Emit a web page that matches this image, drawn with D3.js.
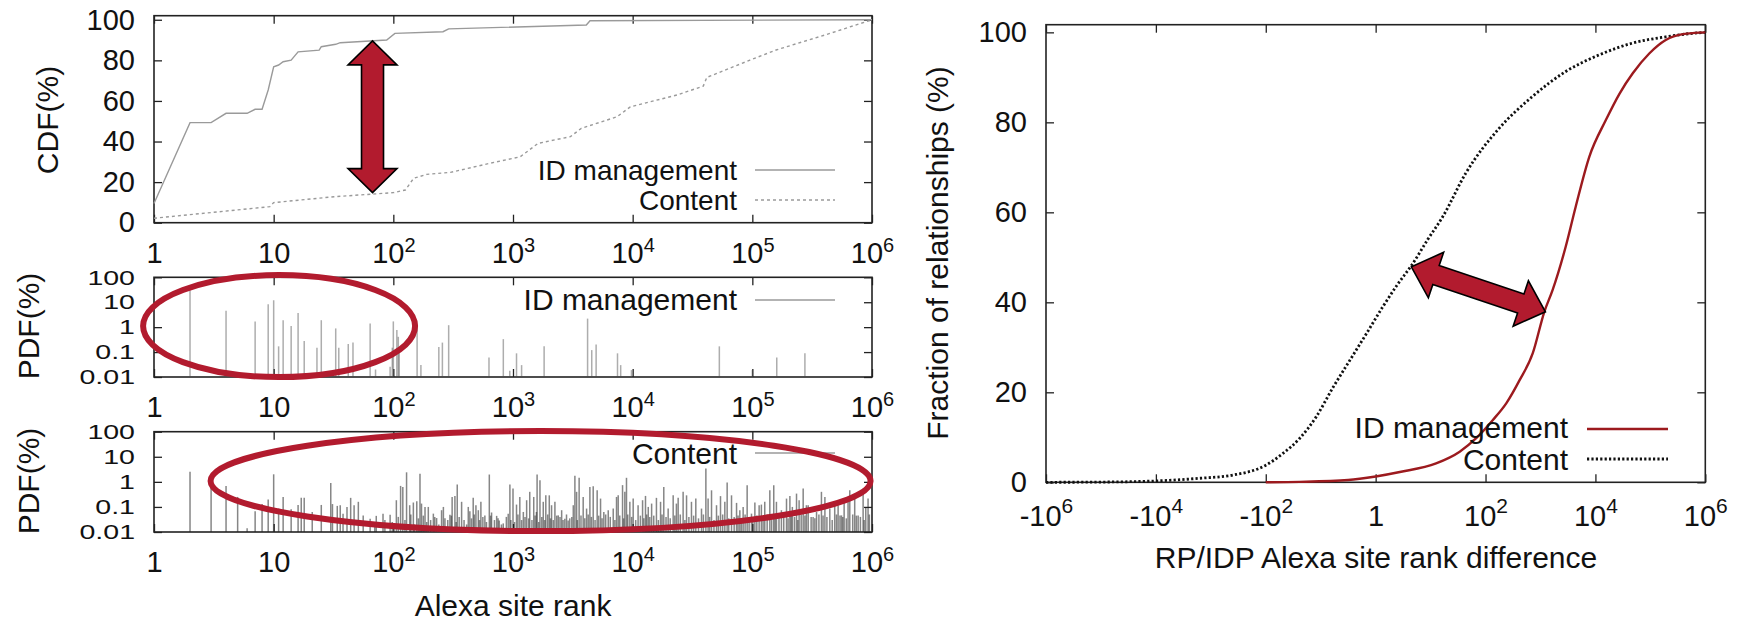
<!DOCTYPE html>
<html>
<head>
<meta charset="utf-8">
<script src="https://cdn.jsdelivr.net/npm/d3@7"></script>
<style>
    html, body { margin: 0; padding: 0; background: #fff; }
    #chart { width: 1741px; height: 623px; }
</style>
</head>
<body>
<div id="chart"></div>
<script>
// ---- values ----
const rankTicks = [1, 10, 1e2, 1e3, 1e4, 1e5, 1e6];
const cdfTicks = [0, 20, 40, 60, 80, 100];
const pdfTicks = [0.01, 0.1, 1, 10, 100];
// right chart: signed exponent of the rank difference (-6 is -10^6, 0 is labelled 1)
const diffTicks = [-6, -4, -2, 0, 2, 4, 6];
const fracTicks = [0, 20, 40, 60, 80, 100];

// [Alexa rank, CDF %]
const idCdf = [
    [1, 9.5], [2, 49.3], [3, 49.3], [4, 53.9], [6, 53.9], [7, 55.9], [8, 55.9],
    [9, 65.4], [10, 76.8], [11, 77.7], [12, 79.3], [14, 80.1], [16, 84.2], [24, 85],
    [25, 86.7], [33, 87.9], [36, 88.7], [88, 90], [103, 93.3], [260, 94.1], [290, 95.5],
    [4100, 97.4], [4400, 99.5], [1e6, 100]
];
const contentCdf = [
    [1, 2.2], [9.3, 7.9], [10, 9.9], [32, 12.8], [100, 14.8], [126, 16.1], [148, 21.9],
    [190, 23.8], [300, 24.8], [645, 29.3], [1150, 32.5], [1620, 39.1], [3020, 42.4],
    [3720, 46.5], [7410, 52.2], [9550, 57.1], [23400, 62.9], [38900, 67.3], [41700, 71.6],
    [95500, 80.1], [158000, 85.1], [447000, 93.3], [1e6, 100]
];

// [Alexa rank, PDF %]
const idPdf = [
    [2, 30], [4, 4.5], [7, 1.7], [9, 8.3], [10, 12], [11, 0.17], [12, 1.9], [14, 1.1],
    [16, 3.7], [18, 0.28], [23, 0.15], [25, 1.9], [33, 0.89], [35, 0.15], [42, 0.21],
    [46, 0.24], [64, 1.4], [71, 0.02], [94, 0.026], [98, 0.15], [100, 1.7], [107, 0.76],
    [110, 0.41], [112, 0.12], [158, 1.0], [170, 0.03], [240, 0.16], [257, 0.24], [290, 1.2],
    [630, 0.06], [830, 0.33], [940, 0.018], [1070, 0.089], [1180, 0.03], [1820, 0.17],
    [4200, 2.2], [4550, 0.12], [4950, 0.2], [7470, 0.089], [7940, 0.03], [9770, 0.019],
    [53000, 0.17], [100000, 0.019], [160000, 0.06], [275000, 0.089]
];
const contentPdf = [
    [2, 2.5], [3, 1.6], [4, 0.69], [5, 0.25], [6, 0.014], [7, 0.067], [8, 0.13], [9, 0.2],
    [10, 2.0], [11, 0.086], [12, 0.25], [14, 0.08], [16, 0.12], [17, 0.23], [18, 0.23],
    [21, 0.063], [25, 0.12], [30, 0.91], [31, 0.13], [34, 0.11], [36, 0.117], [38, 0.054],
    [41, 0.1], [44, 0.23], [47, 0.117], [51, 0.16], [56, 0.046], [64, 0.034], [72, 0.044],
    [82, 0.054], [94, 0.049], [106, 0.185], [115, 0.69], [120, 0.63], [129, 2.4], [137, 0.117],
    [147, 0.15], [157, 0.17], [167, 2.1], [172, 0.136], [184, 0.1], [196, 0.1], [216, 0.054],
    [230, 0.036], [253, 0.074], [262, 0.1], [297, 0.049], [310, 0.25], [327, 0.27], [342, 0.78],
    [372, 0.16], [423, 0.1], [436, 0.067], [465, 0.23], [490, 0.117], [513, 0.074], [539, 0.16],
    [582, 0.046], [634, 1.96], [662, 0.06], [730, 0.044], [767, 0.029], [829, 0.022], [912, 0.054],
    [942, 0.78], [1000, 0.54], [1070, 0.124], [1140, 0.25], [1220, 0.063], [1300, 0.185],
    [1380, 0.4], [1490, 0.25], [1570, 0.063], [1590, 1.96], [1680, 1.17], [1790, 0.16],
    [1880, 0.29], [2010, 0.29], [2100, 0.117], [2240, 0.16], [2390, 0.046], [2550, 0.074],
    [2710, 0.034], [2890, 0.029], [3190, 0.117], [3290, 1.74], [3400, 0.4], [3570, 1.45],
    [3860, 0.25], [4120, 0.086], [4390, 0.63], [4680, 0.66], [5050, 0.46], [5390, 0.215],
    [5740, 0.063], [6250, 0.074], [6880, 0.086], [7330, 0.25], [7570, 0.29], [8230, 0.74],
    [8600, 0.4], [8880, 1.45], [9470, 0.16], [10100, 0.215], [11100, 0.117], [12100, 0.185],
    [12800, 0.275], [13500, 0.1], [14400, 0.136], [15800, 0.23], [17100, 0.16], [18200, 0.63],
    [19800, 0.086], [21800, 0.29], [23200, 0.136], [24000, 0.23], [26400, 0.4], [28200, 0.29],
    [31000, 0.16], [33700, 0.215], [37600, 0.086], [40900, 3.4], [42700, 0.215], [45600, 0.46],
    [50200, 0.117], [54200, 0.27], [58900, 0.16], [61600, 0.94], [67000, 0.29], [73800, 0.145],
    [78600, 0.074], [83800, 0.1], [90500, 0.74], [98400, 0.054], [105000, 0.15], [114000, 0.117],
    [119000, 0.124], [127000, 0.16], [140000, 0.46], [151000, 0.74], [159000, 0.16],
    [175000, 0.074], [193000, 0.215], [206000, 0.275], [216000, 0.1], [234000, 0.34],
    [246000, 0.185], [266000, 0.54], [283000, 0.117], [293000, 0.117], [322000, 0.04],
    [344000, 0.063], [378000, 0.4], [404000, 0.25], [444000, 0.086], [488000, 0.16],
    [521000, 0.117], [556000, 0.046], [585000, 0.185], [631000, 0.185], [652000, 0.46],
    [717000, 0.29], [766000, 0.046], [843000, 0.54], [887000, 0.1], [927000, 0.215]
];
// the dark floor of ranks seen only once or twice
const contentPdfLow = [
    [70, 0.02], [85, 0.03], [98, 0.025], [110, 0.04], [125, 0.03], [140, 0.05], [150, 0.02],
    [162, 0.035], [178, 0.045], [190, 0.025], [205, 0.03], [222, 0.04], [240, 0.02], [270, 0.035],
    [285, 0.03], [305, 0.045], [335, 0.025], [355, 0.04], [390, 0.03], [410, 0.02], [450, 0.035],
    [475, 0.05], [525, 0.03], [560, 0.04], [600, 0.025], [650, 0.045], [700, 0.03], [750, 0.035],
    [800, 0.02], [880, 0.04], [960, 0.03], [1030, 0.025], [1100, 0.05], [1180, 0.03], [1260, 0.04],
    [1350, 0.035], [1440, 0.03], [1530, 0.045], [1640, 0.025], [1740, 0.04], [1840, 0.03],
    [1950, 0.05], [2060, 0.035], [2170, 0.03], [2320, 0.045], [2470, 0.04], [2620, 0.03],
    [2800, 0.05], [2980, 0.035], [3100, 0.04], [3450, 0.03], [3700, 0.045], [3980, 0.035],
    [4250, 0.05], [4520, 0.04], [4850, 0.03], [5200, 0.045], [5550, 0.035], [5950, 0.05],
    [6500, 0.04], [7100, 0.03], [7800, 0.045], [8400, 0.035], [9100, 0.05], [9800, 0.04],
    [10600, 0.03], [11600, 0.045], [12400, 0.035], [13100, 0.05], [13900, 0.04], [15000, 0.045],
    [16400, 0.03], [17600, 0.05], [19000, 0.04], [20600, 0.035], [22500, 0.045], [25000, 0.05],
    [27300, 0.03], [29500, 0.04], [32300, 0.045], [35500, 0.035], [39000, 0.05], [44000, 0.04],
    [47800, 0.03], [52000, 0.045], [56500, 0.05], [63500, 0.035], [70500, 0.04], [76000, 0.045],
    [81000, 0.03], [87000, 0.05], [94000, 0.04], [101000, 0.035], [109000, 0.045], [123000, 0.04],
    [133000, 0.05], [145000, 0.03], [155000, 0.045], [167000, 0.04], [183000, 0.05], [199000, 0.035],
    [211000, 0.045], [225000, 0.04], [240000, 0.03], [256000, 0.05], [275000, 0.045], [310000, 0.04],
    [333000, 0.035], [360000, 0.05], [390000, 0.045], [420000, 0.04], [465000, 0.03], [505000, 0.05],
    [540000, 0.045], [570000, 0.04], [610000, 0.035], [690000, 0.05], [740000, 0.045], [800000, 0.04],
    [860000, 0.03], [950000, 0.05]
];

// [signed exponent of RP/IDP rank difference, fraction of relationships %]
const idDiff = [
    [-2, 0], [-1.38, 0.1], [-0.5, 0.5], [0, 1.3], [0.44, 2.3], [1.1, 4.2], [1.53, 6.8],
    [1.83, 9.8], [2.13, 13.8], [2.38, 17.6], [2.62, 22.7], [2.86, 28.7], [3.07, 37.9],
    [3.22, 42.7], [3.46, 52.4], [3.64, 61.2], [3.89, 72.4], [4.19, 80.5], [4.44, 86.4],
    [4.68, 90.9], [4.98, 95.3], [5.28, 98.3], [5.59, 99.6], [6, 100]
];
const contentDiff = [
    [-6, 0], [-5, 0.05], [-4, 0.3], [-3.2, 0.9], [-2.6, 1.6], [-2, 3.8], [-1.7, 6.3],
    [-1.38, 9.8], [-1.08, 14.6], [-0.78, 21], [-0.45, 27.5], [-0.17, 33], [0.13, 39],
    [0.4, 44], [0.67, 48.5], [0.95, 54], [1.22, 59], [1.64, 68.7], [2.25, 78.7], [2.85, 85.7],
    [3.46, 91.3], [4.07, 95], [4.67, 97.6], [5.28, 99], [5.7, 99.7], [6, 100]
];

const Colors = {
    FRAME: "#222",
    TEXT: "#111",
    GREY: "#9a9a9a",
    SPIKE: "#4a4a4a",
    SPIKE_DARK: "#222",
    DARK_RED: "#9c1a1e",
    MARK: "#b21b2e"
};
const FONT = "'Liberation Sans', Arial, Helvetica, sans-serif";
const TICK = 8;

const svg = d3.select("#chart")
    .append("svg")
    .attr("width", 1741)
    .attr("height", 623)
    .attr("viewBox", [0, 0, 1741, 623])
    .attr("font-family", FONT)
    .style("background", "#fff");

// boxed gnuplot-style frame with inward ticks on all sides
const Frame = (() => {
    function draw(g, x, y, { xTicks, yTicks, xLabel, yLabel, offset, supSize, supRise, tightY }) {
        const [x0, x1] = x.range();
        const [y0, y1] = y.range();

        const bottom = g.append("g")
            .attr("transform", `translate(0,${y0})`)
            .call(d3.axisBottom(x).tickValues(xTicks).tickSizeInner(-TICK).tickSizeOuter(0).tickFormat(() => ""));
        const top = g.append("g")
            .attr("transform", `translate(0,${y1})`)
            .call(d3.axisTop(x).tickValues(xTicks).tickSizeInner(-TICK).tickSizeOuter(0).tickFormat(() => ""));
        const left = g.append("g")
            .attr("transform", `translate(${x0},0)`)
            .call(d3.axisLeft(y).tickValues(yTicks).tickSizeInner(-TICK).tickSizeOuter(0).tickPadding(19).tickFormat(yLabel));
        const right = g.append("g")
            .attr("transform", `translate(${x1},0)`)
            .call(d3.axisRight(y).tickValues(yTicks).tickSizeInner(-TICK).tickSizeOuter(0).tickFormat(() => ""));

        [bottom, top, left, right].forEach(a => {
            a.attr("font-family", null).attr("font-size", 29).attr("color", Colors.FRAME);
            a.select(".domain").remove();
            a.selectAll(".tick line").attr("stroke-width", 1.3);
        });
        top.selectAll("text").remove();
        right.selectAll("text").remove();
        left.selectAll(".tick text").attr("fill", Colors.TEXT);

        // the short PDF panels squeeze their labels flat, as in the source figure
        if (tightY) {
            left.selectAll(".tick text")
                .attr("font-size", 21)
                .attr("x", null)
                .attr("transform", "translate(-19,0) scale(1.36,1)");
        }

        bottom.selectAll(".tick text")
            .attr("y", offset)
            .attr("dy", null)
            .attr("fill", Colors.TEXT)
            .each(function (d) {
                _power(d3.select(this), xLabel(d), supSize, supRise);
            });

        g.append("rect")
            .attr("x", x0)
            .attr("y", y1)
            .attr("width", x1 - x0)
            .attr("height", y0 - y1)
            .attr("fill", "none")
            .attr("stroke", Colors.FRAME)
            .attr("stroke-width", 1.6);
    }

    function _power(text, [base, exp], supSize, supRise) {
        text.text(base);
        if (exp !== undefined) {
            text.append("tspan")
                .attr("font-size", supSize)
                .attr("dy", -supRise)
                .text(exp);
        }
    }

    function title(g, label, x, y, rotate) {
        g.append("text")
            .attr("transform", `translate(${x},${y})${rotate ? " rotate(-90)" : ""}`)
            .attr("text-anchor", "middle")
            .attr("font-size", 30)
            .attr("fill", Colors.TEXT)
            .text(label);
    }

    function legend(g, label, textRight, baseline, lineY, sample, style) {
        g.append("text")
            .attr("x", textRight)
            .attr("y", baseline)
            .attr("text-anchor", "end")
            .attr("font-size", style.size || 30)
            .attr("fill", Colors.TEXT)
            .text(label);
        g.append("line")
            .attr("x1", sample[0])
            .attr("x2", sample[1])
            .attr("y1", lineY)
            .attr("y2", lineY)
            .attr("stroke", style.stroke)
            .attr("stroke-width", style.width)
            .attr("stroke-dasharray", style.dash || null);
    }

    return { draw, title, legend };
})();

const rankLabel = d => d < 100 ? [String(d)] : ["10", Math.round(Math.log10(d))];
const diffLabel = t => t === 0 ? ["1"] : [t < 0 ? "-10" : "10", Math.abs(t)];

const xRank = d3.scaleLog().domain([1, 1e6]).range([154, 872]);
const yCdf = d3.scaleLinear().domain([0, 102]).range([222.7, 15.7]);
const yPdfId = d3.scaleLog().domain([0.01, 100]).range([377, 277.3]);
const yPdfContent = d3.scaleLog().domain([0.01, 100]).range([532, 431.7]);
const xDiff = d3.scaleLinear().domain([-6, 6]).range([1046, 1705.3]);
const yFrac = d3.scaleLinear().domain([0, 101.7]).range([482.3, 24.7]);

const leftAxes = { xTicks: rankTicks, xLabel: rankLabel, offset: 40, supSize: 20, supRise: 11 };

// ---- top left: CDF ----
const CdfPanel = (() => {
    function render() {
        const g = svg.append("g");
        Frame.draw(g, xRank, yCdf, { ...leftAxes, yTicks: cdfTicks, yLabel: d => d });
        const line = d3.line().x(d => xRank(d[0])).y(d => yCdf(d[1]));

        g.append("path")
            .datum(idCdf)
            .attr("d", line)
            .attr("fill", "none")
            .attr("stroke", Colors.GREY)
            .attr("stroke-width", 1.4);
        g.append("path")
            .datum(contentCdf)
            .attr("d", line)
            .attr("fill", "none")
            .attr("stroke", Colors.GREY)
            .attr("stroke-width", 1.4)
            .attr("stroke-dasharray", "3,3");

        // two legend rows sit only 28px apart, so the type is a touch smaller
        Frame.legend(g, "ID management", 737, 180, 170, [755, 835], { stroke: Colors.GREY, width: 1.4, size: 28 });
        Frame.legend(g, "Content", 737, 210, 200, [755, 835], { stroke: Colors.GREY, width: 1.4, dash: "3,3", size: 28 });
        Frame.title(g, "CDF(%)", 58, 120, true);
    }
    return { render };
})();

// ---- middle / bottom left: PDF spikes ----
const PdfPanel = (() => {
    function render({ data, y, label, legendBase, legendLine, yTitle, stroke, opacity }) {
        const g = svg.append("g");
        Frame.draw(g, xRank, y, { ...leftAxes, yTicks: pdfTicks, yLabel: d => String(d), tightY: true });

        g.append("g")
            .selectAll("line")
            .data(data)
            .join("line")
            .attr("x1", d => xRank(d[0]))
            .attr("x2", d => xRank(d[0]))
            .attr("y1", y(0.01))
            .attr("y2", d => y(d[1]))
            .attr("stroke", stroke)
            .attr("stroke-opacity", opacity)
            .attr("stroke-width", 1.5);

        Frame.legend(g, label, 737, legendBase, legendLine, [755, 835], { stroke: Colors.GREY, width: 1.4 });
        Frame.title(g, "PDF(%)", 39, yTitle, true);
        return g;
    }
    return { render };
})();

// ---- right: RP/IDP rank difference ----
const DiffPanel = (() => {
    function render() {
        const g = svg.append("g");
        Frame.draw(g, xDiff, yFrac, {
            xTicks: diffTicks, xLabel: diffLabel, offset: 44, supSize: 21, supRise: 13,
            yTicks: fracTicks, yLabel: d => d
        });
        const line = d3.line()
            .curve(d3.curveMonotoneX)
            .x(d => xDiff(d[0]))
            .y(d => yFrac(d[1]));

        g.append("path")
            .datum(contentDiff)
            .attr("d", line)
            .attr("fill", "none")
            .attr("stroke", Colors.TEXT)
            .attr("stroke-width", 2.8)
            .attr("stroke-dasharray", "2.2,2.2");
        g.append("path")
            .datum(idDiff)
            .attr("d", line)
            .attr("fill", "none")
            .attr("stroke", Colors.DARK_RED)
            .attr("stroke-width", 2.4);

        Frame.legend(g, "ID management", 1568, 438, 429, [1587, 1668], { stroke: Colors.DARK_RED, width: 2.4 });
        Frame.legend(g, "Content", 1568, 470, 459, [1587, 1668], { stroke: Colors.TEXT, width: 2.8, dash: "2.2,2.2" });
        Frame.title(g, "Fraction of relationships (%)", 948, 253, true);
        Frame.title(g, "RP/IDP Alexa site rank difference", 1376, 568, false);
        return g;
    }
    return { render };
})();

// ---- red call-outs ----
const Marks = (() => {
    function arrow(g, [ax, ay], [bx, by], shaft, headW, headL) {
        const len = Math.hypot(bx - ax, by - ay);
        const ux = (bx - ax) / len, uy = (by - ay) / len;
        const nx = -uy, ny = ux;
        const p = (s, n) => [ax + ux * s + nx * n, ay + uy * s + ny * n];
        const pts = [
            p(0, 0), p(headL, headW / 2), p(headL, shaft / 2), p(len - headL, shaft / 2),
            p(len - headL, headW / 2), p(len, 0), p(len - headL, -headW / 2),
            p(len - headL, -shaft / 2), p(headL, -shaft / 2), p(headL, -headW / 2)
        ];
        g.append("polygon")
            .attr("points", pts.map(d => d.join(",")).join(" "))
            .attr("fill", Colors.MARK)
            .attr("stroke", "#000")
            .attr("stroke-width", 1.6)
            .attr("stroke-linejoin", "miter");
    }

    function ring(g, cx, cy, rx, ry) {
        g.append("ellipse")
            .attr("cx", cx)
            .attr("cy", cy)
            .attr("rx", rx)
            .attr("ry", ry)
            .attr("fill", "none")
            .attr("stroke", Colors.MARK)
            .attr("stroke-width", 6);
    }
    return { arrow, ring };
})();

CdfPanel.render();
PdfPanel.render({
    data: idPdf, y: yPdfId, label: "ID management", legendBase: 310, legendLine: 300,
    yTitle: 326, stroke: Colors.SPIKE, opacity: 0.45
});
const contentPanel = PdfPanel.render({
    data: contentPdf.concat(contentPdfLow), y: yPdfContent, label: "Content", legendBase: 464,
    legendLine: 453, yTitle: 481, stroke: Colors.SPIKE_DARK, opacity: 0.55
});
Frame.title(contentPanel, "Alexa site rank", 513, 616, false);
DiffPanel.render();

const marks = svg.append("g");
Marks.arrow(marks, [xRank(67), yCdf(89.6)], [xRank(67), yCdf(14.8)], 22, 49, 24);
Marks.ring(marks, xRank(11.1), yPdfId(1.1), 136, 51);
Marks.ring(marks, xRank(1700), yPdfContent(1.07), 330, 50);
Marks.arrow(marks, [xDiff(0.65), yFrac(47.9)], [xDiff(3.09), yFrac(37.9)], 20, 48, 26);
</script>
</body>
</html>
